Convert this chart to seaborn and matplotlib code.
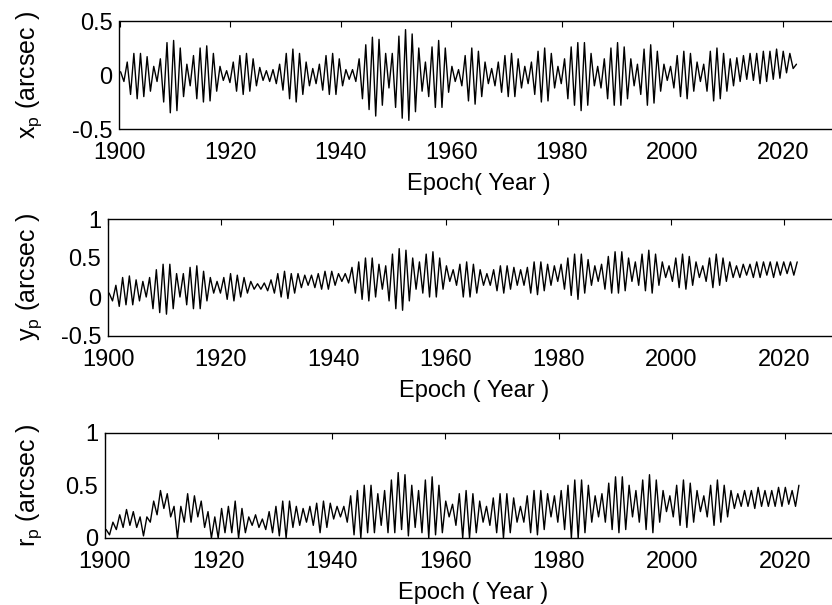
import numpy as np
import pandas as pd
import matplotlib
matplotlib.use("Agg")
import matplotlib.pyplot as plt
import seaborn as sns

# Alternating extremes of the polar-motion curves (arcsec),
# one value per half Chandler cycle (~0.6 yr), grouped in 3-year blocks.
xp_values = [
    0.03, -0.06, 0.12, -0.18, 0.20,     # 1900-1903
    -0.22, 0.20, -0.20, 0.17, -0.15,    # 1903-1906
    0.08, -0.06, 0.15, -0.25, 0.30,     # 1906-1909
    -0.35, 0.32, -0.33, 0.25, -0.20,    # 1909-1912
    0.10, -0.10, 0.18, -0.22, 0.25,     # 1912-1915
    -0.25, 0.27, -0.24, 0.20, -0.15,    # 1915-1918
    0.08, -0.05, 0.04, -0.07, 0.12,     # 1918-1921
    -0.15, 0.18, -0.18, 0.20, -0.15,    # 1921-1924
    0.15, -0.10, 0.07, -0.05, 0.04,     # 1924-1927
    -0.06, 0.05, -0.08, 0.10, -0.14,    # 1927-1930
    0.20, -0.22, 0.24, -0.25, 0.20,     # 1930-1933
    -0.18, 0.12, -0.10, 0.06, -0.08,    # 1933-1936
    0.10, -0.14, 0.18, -0.18, 0.20,     # 1936-1939
    -0.18, 0.15, -0.10, 0.05, -0.04,    # 1939-1942
    0.05, -0.06, 0.15, -0.22, 0.28,     # 1942-1945
    -0.32, 0.35, -0.38, 0.33, -0.28,    # 1945-1948
    0.20, -0.12, 0.20, -0.30, 0.36,     # 1948-1951
    -0.40, 0.42, -0.42, 0.38, -0.34,    # 1951-1954
    0.25, -0.15, 0.12, -0.20, 0.26,     # 1954-1957
    -0.30, 0.32, -0.30, 0.25, -0.16,    # 1957-1960
    0.08, -0.06, 0.05, -0.10, 0.18,     # 1960-1963
    -0.24, 0.25, -0.27, 0.22, -0.20,    # 1963-1966
    0.12, -0.08, 0.06, -0.10, 0.12,     # 1966-1969
    -0.16, 0.18, -0.20, 0.20, -0.20,    # 1969-1972
    0.15, -0.12, 0.08, -0.08, 0.12,     # 1972-1975
    -0.18, 0.22, -0.25, 0.25, -0.24,    # 1975-1978
    0.20, -0.12, 0.08, -0.08, 0.15,     # 1978-1981
    -0.22, 0.26, -0.28, 0.30, -0.33,    # 1981-1984
    0.30, -0.28, 0.20, -0.10, 0.08,     # 1984-1987
    -0.12, 0.15, -0.22, 0.25, -0.28,    # 1987-1990
    0.30, -0.28, 0.26, -0.22, 0.15,     # 1990-1993
    -0.10, 0.10, -0.18, 0.24, -0.28,    # 1993-1996
    0.28, -0.26, 0.22, -0.15, 0.10,     # 1996-1999
    -0.05, 0.08, -0.12, 0.18, -0.20,    # 1999-2002
    0.22, -0.22, 0.20, -0.15, 0.12,     # 2002-2005
    -0.06, 0.10, -0.15, 0.22, -0.24,    # 2005-2008
    0.25, -0.22, 0.20, -0.15, 0.15,     # 2008-2011
    -0.10, 0.16, -0.06, 0.18, -0.04,    # 2011-2014
    0.20, -0.05, 0.20, -0.08, 0.22,     # 2014-2017
    -0.06, 0.22, -0.04, 0.24, -0.03,    # 2017-2020
    0.22, 0.02, 0.20, 0.06, 0.10,       # 2020-2022
]

yp_values = [
    0.05, -0.05, 0.15, -0.12, 0.25,
    -0.10, 0.27, -0.10, 0.22, -0.05,
    0.20, 0.00, 0.25, -0.15, 0.35,
    -0.20, 0.42, -0.22, 0.42, -0.15,
    0.30, 0.00, 0.30, -0.10, 0.38,
    -0.15, 0.40, -0.15, 0.33, -0.05,
    0.25, 0.05, 0.20, 0.05, 0.25,
    -0.03, 0.30, -0.05, 0.28, 0.00,
    0.25, 0.05, 0.20, 0.10, 0.17,
    0.10, 0.18, 0.08, 0.22, 0.05,
    0.30, 0.00, 0.33, -0.02, 0.30,
    0.05, 0.30, 0.12, 0.28, 0.15,
    0.28, 0.12, 0.30, 0.10, 0.33,
    0.10, 0.33, 0.15, 0.30, 0.20,
    0.30, 0.18, 0.38, 0.05, 0.45,
    -0.03, 0.50, -0.05, 0.50, 0.00,
    0.42, 0.10, 0.40, -0.05, 0.55,
    -0.15, 0.62, -0.17, 0.60, -0.05,
    0.50, 0.10, 0.45, 0.05, 0.55,
    0.00, 0.58, 0.00, 0.50, 0.10,
    0.40, 0.20, 0.35, 0.15, 0.42,
    0.00, 0.45, 0.00, 0.42, 0.05,
    0.35, 0.15, 0.30, 0.15, 0.35,
    0.08, 0.40, 0.05, 0.40, 0.10,
    0.38, 0.15, 0.35, 0.15, 0.38,
    0.05, 0.45, 0.03, 0.45, 0.08,
    0.42, 0.15, 0.40, 0.20, 0.42,
    0.10, 0.50, 0.02, 0.55, -0.03,
    0.55, 0.05, 0.48, 0.15, 0.40,
    0.20, 0.42, 0.10, 0.52, 0.05,
    0.58, 0.05, 0.58, 0.08, 0.50,
    0.20, 0.45, 0.15, 0.55, 0.08,
    0.60, 0.05, 0.55, 0.15, 0.45,
    0.25, 0.40, 0.20, 0.50, 0.12,
    0.55, 0.10, 0.52, 0.15, 0.45,
    0.25, 0.40, 0.20, 0.50, 0.12,
    0.55, 0.15, 0.50, 0.20, 0.45,
    0.25, 0.40, 0.25, 0.42, 0.28,
    0.42, 0.25, 0.45, 0.25, 0.45,
    0.28, 0.45, 0.25, 0.45, 0.28,
    0.45, 0.30, 0.45, 0.28, 0.45,
]

rp_values = [
    0.08, 0.03, 0.15, 0.08, 0.22,
    0.10, 0.27, 0.12, 0.25, 0.10,
    0.20, 0.02, 0.20, 0.15, 0.35,
    0.22, 0.45, 0.28, 0.42, 0.20,
    0.30, 0.00, 0.30, 0.15, 0.42,
    0.15, 0.40, 0.20, 0.35, 0.10,
    0.25, 0.00, 0.20, 0.00, 0.28,
    0.05, 0.30, 0.05, 0.35, 0.00,
    0.28, 0.05, 0.20, 0.12, 0.22,
    0.10, 0.18, 0.08, 0.25, 0.05,
    0.30, 0.02, 0.35, 0.00, 0.35,
    0.10, 0.30, 0.12, 0.28, 0.15,
    0.30, 0.12, 0.33, 0.05, 0.35,
    0.10, 0.33, 0.18, 0.30, 0.20,
    0.30, 0.15, 0.40, 0.03, 0.45,
    0.00, 0.50, 0.05, 0.50, 0.05,
    0.42, 0.12, 0.45, 0.05, 0.55,
    0.05, 0.62, 0.08, 0.60, 0.02,
    0.50, 0.10, 0.45, 0.05, 0.55,
    0.00, 0.58, 0.03, 0.50, 0.05,
    0.35, 0.20, 0.32, 0.12, 0.42,
    0.00, 0.45, 0.00, 0.42, 0.05,
    0.35, 0.15, 0.30, 0.12, 0.38,
    0.05, 0.42, 0.00, 0.42, 0.05,
    0.38, 0.15, 0.30, 0.15, 0.40,
    0.05, 0.45, 0.03, 0.45, 0.08,
    0.42, 0.20, 0.40, 0.15, 0.45,
    0.08, 0.50, 0.00, 0.55, 0.00,
    0.55, 0.05, 0.50, 0.15, 0.40,
    0.20, 0.42, 0.15, 0.52, 0.08,
    0.58, 0.05, 0.58, 0.08, 0.50,
    0.20, 0.45, 0.15, 0.55, 0.08,
    0.60, 0.05, 0.55, 0.15, 0.45,
    0.25, 0.40, 0.20, 0.50, 0.12,
    0.55, 0.10, 0.52, 0.15, 0.45,
    0.25, 0.40, 0.20, 0.50, 0.12,
    0.55, 0.15, 0.50, 0.20, 0.45,
    0.28, 0.42, 0.30, 0.45, 0.30,
    0.45, 0.28, 0.48, 0.30, 0.45,
    0.30, 0.45, 0.30, 0.48, 0.30,
    0.48, 0.32, 0.45, 0.30, 0.50,
]

epoch_first, epoch_last = 1900.2, 2022.4
epochs = np.linspace(epoch_first, epoch_last, len(xp_values))

xticks = [1900, 1920, 1940, 1960, 1980, 2000, 2020]
xtick_labels = ["1900", "1920", "1940", "1960", "1980", "2000", "2020"]

panels = [
    dict(values=xp_values, ylabel="x$_\\mathregular{p}$ (arcsec )", xlabel="Epoch( Year )",
         ylim=(-0.5, 0.5), yticks=[-0.5, 0, 0.5], yticklabels=["-0.5", "0", "0.5"],
         pos=[119.5, 21, 838.5, 129]),
    dict(values=yp_values, ylabel="y$_\\mathregular{p}$ (arcsec )", xlabel="Epoch ( Year )",
         ylim=(-0.5, 1.0), yticks=[-0.5, 0, 0.5, 1.0], yticklabels=["-0.5", "0", "0.5", "1"],
         pos=[108, 219, 840, 336]),
    dict(values=rp_values, ylabel="r$_\\mathregular{p}$ (arcsec )", xlabel="Epoch ( Year )",
         ylim=(0, 1.0), yticks=[0, 0.5, 1.0], yticklabels=["0", "0.5", "1"],
         pos=[105, 432.5, 842, 538]),
]

sns.set_theme(style="white")
plt.rcParams["font.family"] = ["Liberation Sans", "DejaVu Sans"]
plt.rcParams["mathtext.fontset"] = "custom"
plt.rcParams["mathtext.rm"] = "Liberation Sans"
plt.rcParams["mathtext.it"] = "Liberation Sans"

W, H = 832, 605
fig = plt.figure(figsize=(W / 100, H / 100), dpi=100)

for p in panels:
    l, t, r, b = p["pos"]
    ax = fig.add_axes([l / W, 1 - b / H, (r - l) / W, (b - t) / H])
    df = pd.DataFrame({"epoch": epochs, "value": p["values"]})
    sns.lineplot(data=df, x="epoch", y="value", ax=ax, color="black",
                 linewidth=1.0, estimator=None, sort=False)
    ax.set_xlim(1900, 2030)
    ax.set_ylim(*p["ylim"])
    ax.set_xticks(xticks)
    ax.set_xticklabels(xtick_labels)
    ax.set_yticks(p["yticks"])
    ax.set_yticklabels(p["yticklabels"])
    ax.tick_params(direction="in", length=4, width=0.8, top=True, right=True,
                   labelsize=17, colors="black")
    ax.tick_params(axis="x", pad=9.5)
    ax.tick_params(axis="y", pad=5)
    for s in ax.spines.values():
        s.set_color("black")
        s.set_linewidth(1.0)
    ax.set_xlabel(p["xlabel"], fontsize=17, labelpad=6, color="black")
    ax.set_ylabel(p["ylabel"], fontsize=18, color="black")
    yc = 1 - ((t + b) / 2) / H
    ax.yaxis.set_label_coords(44 / W, yc, transform=fig.transFigure)

fig.savefig("out.png", dpi=100)
